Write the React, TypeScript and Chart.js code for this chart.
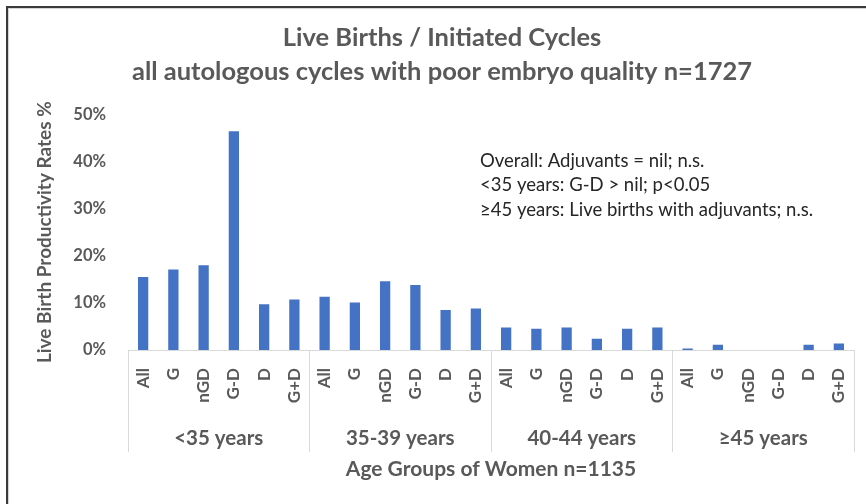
import React, { useEffect, useRef } from "react";
import { Chart, registerables } from "chart.js";

Chart.register(...registerables);

const subCategories = ["All", "G", "nGD", "G-D", "D", "G+D"];
const ageGroups = ["<35 years", "35-39 years", "40-44 years", "≥45 years"];
const under35 = [15.5, 17.1, 18.0, 46.4, 9.7, 10.7];
const age35to39 = [11.3, 10.1, 14.6, 13.8, 8.5, 8.8];
const age40to44 = [4.8, 4.5, 4.8, 2.4, 4.5, 4.8];
const age45plus = [0.3, 1.1, 0, 0, 1.1, 1.4];
const yTicks = [0, 10, 20, 30, 40, 50];
const titleLines = [
  "Live Births / Initiated Cycles",
  "all autologous cycles with poor embryo quality n=1727",
];
const yTitle = "Live Birth Productivity Rates %";
const xTitle = "Age Groups of Women n=1135";
const notes = [
  "Overall: Adjuvants = nil; n.s.",
  "<35 years: G-D > nil; p<0.05",
  "≥45 years: Live births with adjuvants; n.s.",
];

const FONT = "Lato";
const GREY = "#595959";
const LINE = "#d9d9d9";

export default function App() {
  const ref = useRef<HTMLCanvasElement>(null);

  useEffect(() => {
    const labels: string[] = [];
    ageGroups.forEach(() => subCategories.forEach((c) => labels.push(c)));
    const values = [...under35, ...age35to39, ...age40to44, ...age45plus];

    const framePlugin = {
      id: "frame",
      beforeDraw(chart: any) {
        const ctx = chart.ctx;
        ctx.save();
        ctx.fillStyle = "#ffffff";
        ctx.fillRect(0, 0, chart.width, chart.height);
        ctx.fillStyle = "#3a3a3a";
        ctx.fillRect(6, 6, chart.width, 2);
        ctx.fillRect(6, 6, 2, chart.height);
        ctx.fillStyle = "#d4d4d4";
        ctx.fillRect(8, 8, chart.width, 1);
        ctx.fillRect(8, 8, 1, chart.height);
        ctx.restore();
      },
      afterDraw(chart: any) {
        const ctx = chart.ctx;
        ctx.save();
        ctx.font = `18.5px ${FONT}`;
        ctx.fillStyle = "#262626";
        ctx.textBaseline = "middle";
        ctx.textAlign = "left";
        notes.forEach((t, i) => ctx.fillText(t, 480, 161 + i * 24.5));
        ctx.restore();
      },
    };

    const chart = new Chart(ref.current!, {
      type: "bar",
      data: {
        labels,
        datasets: [
          {
            data: values,
            backgroundColor: "#4472C4",
            categoryPercentage: 1,
            barPercentage: 0.34,
            xAxisID: "x",
            yAxisID: "y",
          },
        ],
      },
      options: {
        animation: false,
        responsive: false,
        maintainAspectRatio: false,
        layout: { padding: { left: 30, right: 12, top: 10, bottom: 22 } },
        plugins: {
          legend: { display: false },
          tooltip: { enabled: false },
          title: {
            display: true,
            text: titleLines,
            color: GREY,
            font: { family: FONT, size: 25.5, weight: "bold", lineHeight: 1.34 },
            padding: { top: 11, bottom: 25 },
          },
        },
        scales: {
          x: {
            type: "category",
            position: "bottom",
            weight: 0,
            offset: true,
            grid: {
              display: true,
              drawOnChartArea: false,
              drawTicks: true,
              tickLength: 102,
              offset: true,
              lineWidth: 1,
              color: (c: any) =>
                c.type !== "tick" || c.index % subCategories.length === 0
                  ? LINE
                  : "rgba(0,0,0,0)",
            },
            border: { display: true, color: LINE, width: 1 },
            ticks: {
              autoSkip: false,
              minRotation: 90,
              maxRotation: 90,
              padding: -84,
              color: GREY,
              font: { family: FONT, size: 17, weight: "bold" },
            },
            afterFit: (s: any) => {
              s.height = 70;
            },
          },
          groups: {
            type: "category",
            axis: "x",
            position: "bottom",
            weight: 1,
            labels: ageGroups,
            offset: true,
            grid: { display: false, drawTicks: false },
            border: { display: false },
            ticks: {
              padding: 6,
              color: GREY,
              font: { family: FONT, size: 20.5, weight: "bold" },
            },
            title: {
              display: true,
              text: xTitle,
              color: GREY,
              font: { family: FONT, size: 21, weight: "bold" },
              padding: { top: 0, bottom: 0 },
            },
            afterFit: (s: any) => {
              s.height = 62;
            },
          },
          y: {
            min: 0,
            max: 50,
            grid: { display: false, drawTicks: false },
            border: { display: false },
            afterBuildTicks: (s: any) => {
              s.ticks = yTicks.map((v) => ({ value: v }));
            },
            ticks: {
              padding: 22,
              color: GREY,
              font: { family: FONT, size: 16.5, weight: "bold" },
              callback: (v: any) => `${v}%`,
            },
            title: {
              display: true,
              text: yTitle,
              color: GREY,
              font: { family: FONT, size: 19, weight: "bold" },
              padding: { top: 3, bottom: 0 },
            },
            afterFit: (s: any) => {
              s.width = 98;
            },
          },
        },
      },
      plugins: [framePlugin],
    } as any);

    return () => chart.destroy();
  }, []);

  return (
    <div style={{ position: "fixed", left: 0, top: 0, width: 866, height: 504, background: "#fff" }}>
      <canvas ref={ref} width={866} height={504} style={{ display: "block" }} />
    </div>
  );
}
